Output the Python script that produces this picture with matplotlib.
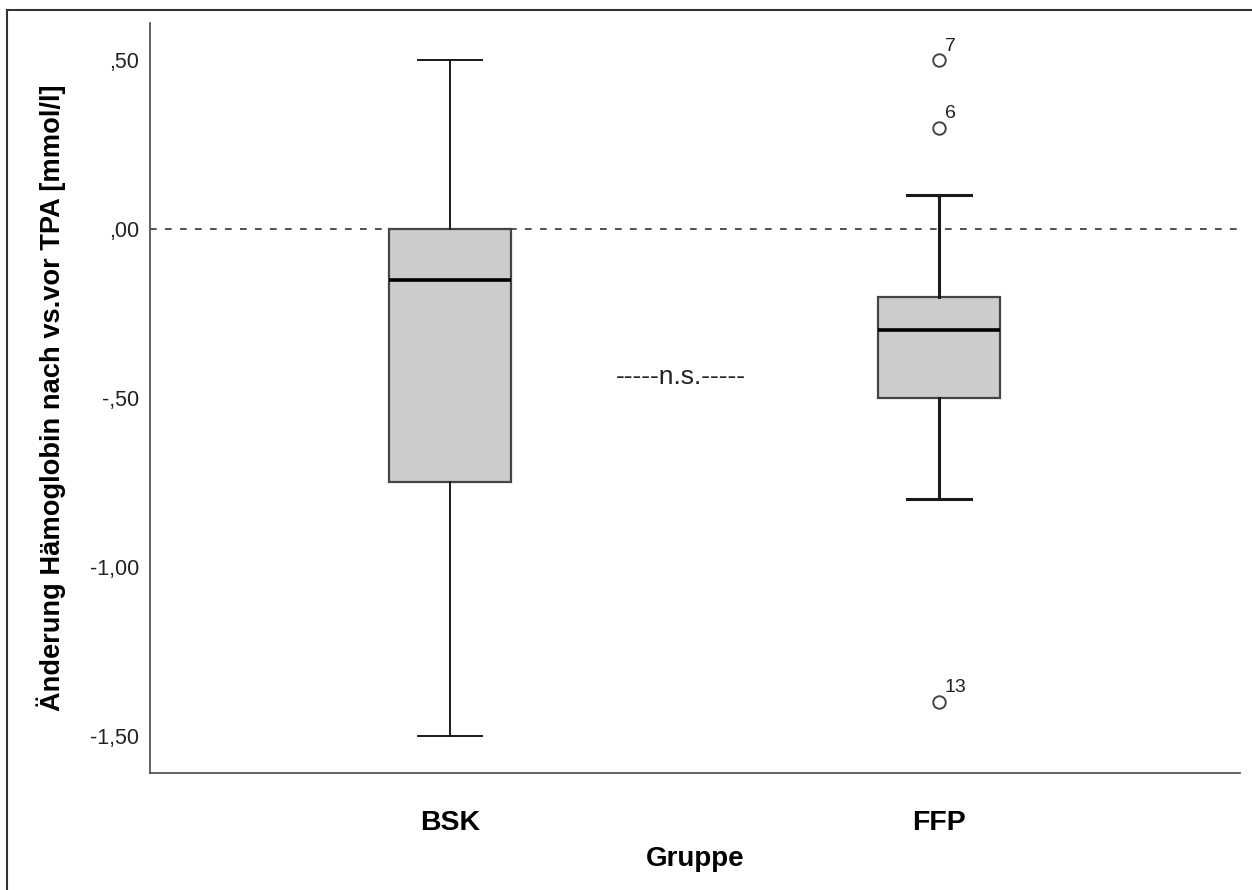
import matplotlib.pyplot as plt
from matplotlib.lines import Line2D

# Werte
gruppen = ['BSK', 'FFP']
q1 = [-0.75, -0.50]
median = [-0.15, -0.30]
q3 = [0.00, -0.20]
whisker_low = [-1.50, -0.80]
whisker_high = [0.50, 0.10]
ausreisser = [[], [0.50, 0.30, -1.40]]
ausreisser_ids = [[], ['7', '6', '13']]
yticks = [0.5, 0.0, -0.5, -1.0, -1.5]
ytick_labels = [',50', ',00', '-,50', '-1,00', '-1,50']

plt.rcParams['font.family'] = ['Liberation Sans', 'DejaVu Sans']

fig = plt.figure(figsize=(12.52, 8.9), dpi=100)
ax = fig.add_axes([150 / 1252, 1 - 773 / 890, 1090 / 1252, 750 / 890])

stats = []
for i, g in enumerate(gruppen):
    stats.append({'label': g, 'q1': q1[i], 'med': median[i], 'q3': q3[i],
                  'whislo': whisker_low[i], 'whishi': whisker_high[i],
                  'fliers': ausreisser[i]})

pos = [1, 2]
bp = ax.bxp(stats, positions=pos, widths=0.25, patch_artist=True,
            boxprops=dict(facecolor='#cccccc', edgecolor='#444444', linewidth=1.6),
            medianprops=dict(color='black', linewidth=2.6),
            whiskerprops=dict(color='#1a1a1a', linewidth=1.4),
            capprops=dict(color='#1a1a1a', linewidth=1.4),
            flierprops=dict(marker='o', markersize=9, markerfacecolor='white',
                            markeredgecolor='#444444', markeredgewidth=1.4),
            capwidths=0.13, zorder=3)

# FFP hat etwas kräftigere Whisker
for ln in bp['whiskers'][2:] + bp['caps'][2:]:
    ln.set_linewidth(2.2)

# Ausreißer-Nummern
for i, (vals, ids) in enumerate(zip(ausreisser, ausreisser_ids)):
    for v, t in zip(vals, ids):
        ax.annotate(t, (pos[i], v), xytext=(4, 4), textcoords='offset points',
                    fontsize=14, color='#222222', ha='left', va='bottom')

ax.axhline(0, color='#333333', linewidth=1.2, linestyle=(0, (4, 5)), zorder=2)

ax.text(1.473, -0.438, '-----n.s.-----', fontsize=19, color='#222222',
        ha='center', va='center')

ax.set_xlim(0.387, 2.615)
ax.set_ylim(-1.61, 0.61)
ax.set_yticks(yticks)
ax.set_yticklabels(ytick_labels)
ax.tick_params(axis='y', length=0, pad=8, labelsize=15.5, labelcolor='#222222')
ax.tick_params(axis='x', length=0, pad=27)
ax.set_xticks(pos)
ax.set_xticklabels(gruppen, fontsize=20.5, fontweight='bold')

ax.set_ylabel('Änderung Hämoglobin nach vs.vor TPA [mmol/l]', fontsize=19.6,
              fontweight='bold', labelpad=17)
ax.set_xlabel('Gruppe', fontsize=20, fontweight='bold', labelpad=7)

for s in ['top', 'right']:
    ax.spines[s].set_visible(False)
for s in ['left', 'bottom']:
    ax.spines[s].set_color('#555555')
    ax.spines[s].set_linewidth(1.3)

# Rahmen um die Grafik (oben und links)
fig.add_artist(Line2D([7 / 1252, 1], [1 - 10 / 890, 1 - 10 / 890],
                      color='#333333', linewidth=1.5, transform=fig.transFigure))
fig.add_artist(Line2D([7 / 1252, 7 / 1252], [0, 1 - 10 / 890],
                      color='#333333', linewidth=1.5, transform=fig.transFigure))

plt.savefig('out.png', dpi=100)
